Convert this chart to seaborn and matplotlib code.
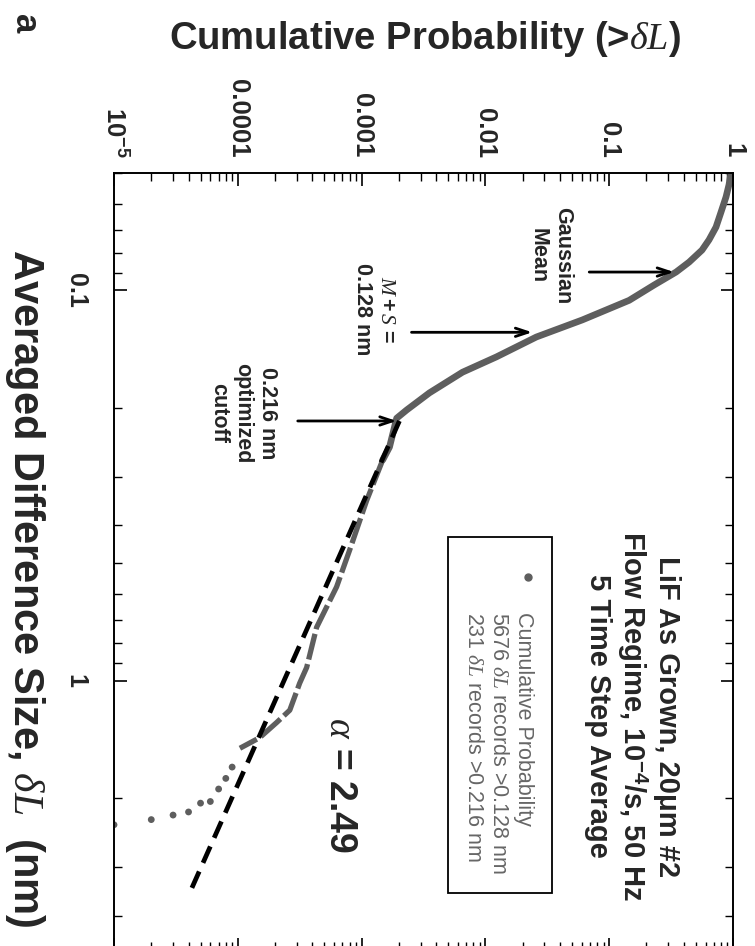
import numpy as np
import pandas as pd
import matplotlib
matplotlib.use("Agg")
import matplotlib.pyplot as plt
import seaborn as sns
from matplotlib.patches import Rectangle
from matplotlib.ticker import LogLocator, NullFormatter

# ---------------- data ----------------
# dense part of the cumulative distribution: probability vs averaged difference size (nm)
curve_prob = [0.99, 0.963, 0.928, 0.878, 0.80, 0.729, 0.64, 0.562, 0.442, 0.347, 0.231,
              0.145, 0.0606, 0.0258, 0.01227, 0.00653, 0.00353, 0.00231, 0.00192,
              0.00168, 0.00148]
curve_dl = [0.047, 0.050, 0.0536, 0.0576, 0.063, 0.0688, 0.0742, 0.0788, 0.0846, 0.0897,
            0.0968, 0.106, 0.119, 0.1316, 0.148, 0.162, 0.183, 0.2025, 0.2125,
            0.252, 0.272]
# sparser part of the distribution (records start to separate)
lower_prob = [0.00148, 0.0011, 0.0008, 0.000628, 0.000433, 0.00036, 0.000316, 0.000263,
              0.000206, 0.000150, 0.000104]
lower_dl = [0.272, 0.345, 0.463, 0.575, 0.73, 0.925, 1.015, 1.19, 1.28, 1.40, 1.49]
# sparse tail: individual records
tail_prob = [9e-5, 8e-5, 7e-5, 6e-5, 5e-5, 4e-5, 3e-5, 2e-5, 1e-5]
tail_dl = [1.665, 1.78, 1.895, 2.04, 2.06, 2.17, 2.21, 2.27, 2.34]
# power-law fit (alpha = 2.49) above the optimized cutoff
fit_prob = [0.00202, 4.1e-5]
fit_dl = [0.216, 3.49]

prob_ticks = [1e-5, 1e-4, 1e-3, 1e-2, 1e-1, 1]
prob_ticklabels = [r'$\mathbf{10^{-5}}$', '0.0001', '0.001', '0.01', '0.1', '1']
dl_ticks = [0.1, 1]
dl_ticklabels = ['0.1', '1']

# ---------------- style ----------------
sns.set_style("white")
plt.rcParams['font.family'] = ['Liberation Sans', 'DejaVu Sans']
plt.rcParams['mathtext.fontset'] = 'custom'
plt.rcParams['mathtext.rm'] = 'Liberation Sans:bold'
plt.rcParams['mathtext.bf'] = 'Liberation Sans:bold'
plt.rcParams['mathtext.it'] = 'Liberation Serif:italic'

GRAY = '#5e5e5e'

fig = plt.figure(figsize=(7.55, 9.46), dpi=100)
ax = fig.add_axes([114 / 755, (946 - 950) / 946, 619 / 755, 777 / 946])

curve_df = pd.DataFrame({'prob': curve_prob, 'dl': curve_dl})
sns.lineplot(data=curve_df, x='prob', y='dl', sort=False, estimator=None,
             color=GRAY, lw=4.8, ax=ax, legend=False, zorder=2)
lower_df = pd.DataFrame({'prob': lower_prob, 'dl': lower_dl})
sns.lineplot(data=lower_df, x='prob', y='dl', sort=False, estimator=None,
             color=GRAY, lw=3.8, ax=ax, legend=False, zorder=2)
ax.lines[-1].set_dashes([5.0, 0.9])
tail_df = pd.DataFrame({'prob': tail_prob, 'dl': tail_dl})
sns.scatterplot(data=tail_df, x='prob', y='dl', color=GRAY, s=24, edgecolor='none',
                ax=ax, legend=False, zorder=2)
fit_df = pd.DataFrame({'prob': fit_prob, 'dl': fit_dl})
sns.lineplot(data=fit_df, x='prob', y='dl', sort=False, estimator=None,
             color='black', lw=3.4, ax=ax, legend=False, zorder=3)
ax.lines[-1].set_dashes([3.8, 2.0])

ax.set_xscale('log')
ax.set_yscale('log')
ax.set_xlim(1e-5, 1)
ax.set_ylim(4.9, 0.05)

# ticks
ax.xaxis.tick_top()
ax.xaxis.set_label_position('top')
ax.set_xticks(prob_ticks)
ax.set_xticklabels(prob_ticklabels)
ax.set_yticks(dl_ticks)
ax.set_yticklabels(dl_ticklabels)
for axis in (ax.xaxis, ax.yaxis):
    axis.set_minor_locator(LogLocator(base=10, subs=np.arange(2, 10), numticks=100))
    axis.set_minor_formatter(NullFormatter())
ax.tick_params(which='both', direction='in', top=True, bottom=True, left=True, right=True,
               labeltop=True, labelbottom=False, labelleft=True, labelright=False,
               color='black')
ax.tick_params(which='major', length=9, width=1.2)
ax.tick_params(which='minor', length=5.5, width=1.0)
ax.tick_params(axis='x', pad=11)
ax.tick_params(axis='y', pad=19)
for lab in ax.get_xticklabels():
    lab.set_rotation(-90)
    lab.set_fontsize(18.5)
    lab.set_fontweight('bold')
    lab.set_ha('center')
    lab.set_va('bottom')
for lab in ax.get_yticklabels():
    lab.set_rotation(-90)
    lab.set_fontsize(18)
    lab.set_fontweight('bold')
    lab.set_ha('right')
    lab.set_va('center')
for sp in ax.spines.values():
    sp.set_color('black')
    sp.set_linewidth(1.4)

ax.set_xlabel(r'Cumulative Probability (>$\delta L$)', fontsize=27.5, fontweight='bold')
ax.xaxis.set_label_coords(0.502, 1.172)
ax.xaxis.label.set_va('center')
ax.set_ylabel(r'Averaged Difference Size, $\delta L$  (nm)', fontsize=30,
              fontweight='bold', rotation=270)
ax.yaxis.set_label_coords(-0.1438, 0.466)
ax.yaxis.label.set_va('center')
ax.yaxis.label.set_ha('center')

# annotations with arrows
arrow_kw = dict(arrowstyle='->,head_length=0.9,head_width=0.3', color='black', lw=2.0,
                shrinkA=0, shrinkB=0)
ax.annotate('', xy=(0.334, 0.0897), xytext=(0.069, 0.0897), arrowprops=arrow_kw)
ax.annotate('', xy=(0.0239, 0.128), xytext=(0.00253, 0.128), arrowprops=arrow_kw)
ax.annotate('', xy=(0.00192, 0.216), xytext=(0.000305, 0.216), arrowprops=arrow_kw)

ax.text(0.0334, 0.0812, 'Gaussian\nMean', rotation=-90, ha='center', va='center',
        multialignment='center', fontsize=15.5, fontweight='bold')
ax.text(0.00127, 0.112, '$M + S$ =\n0.128 nm', rotation=-90, ha='center', va='center',
        multialignment='center', fontsize=15.5, fontweight='bold')
ax.text(0.000110, 0.206, '0.216 nm\noptimized\ncutoff', rotation=-90, ha='center',
        va='center', multialignment='center', fontsize=15.5, fontweight='bold')

# sample description
ax.text(0.837, 0.301, 'LiF As Grown, 20\u03bcm #2\nFlow Regime, 10$^{-4}$/s, 50 Hz\n5 Time Step Average',
        transform=ax.transAxes, rotation=-90, ha='center', va='center',
        multialignment='center', fontsize=21, fontweight='bold', linespacing=1.15)

# exponent
ax.text(0.365, 0.212, r'$\alpha$ = 2.49', transform=ax.transAxes, rotation=-90,
        ha='center', va='center', fontsize=27, fontweight='bold')

# legend box (rotated)
ax.add_patch(Rectangle((0.5396, 0.0734), 0.168, 0.4581, transform=ax.transAxes,
                       facecolor='white', edgecolor='black', lw=1.3, zorder=4))
ax.plot([0.6688], [0.4801], transform=ax.transAxes, marker='o', ms=5, color=GRAY,
        ls='none', zorder=5, clip_on=False)
ax.text(0.621, 0.435, 'Cumulative Probability\n5676 $\\delta L$ records >0.128 nm\n231 $\\delta L$ records >0.216 nm',
        transform=ax.transAxes, rotation=-90, ha='center', va='top',
        multialignment='left', fontsize=15.5, color='#666666', zorder=5, linespacing=1.25)

# panel letter
fig.text(24 / 755, 1 - 24 / 946, 'a', rotation=-90, ha='center', va='center',
         fontsize=25, fontweight='bold')

fig.savefig('out.png', dpi=100)
